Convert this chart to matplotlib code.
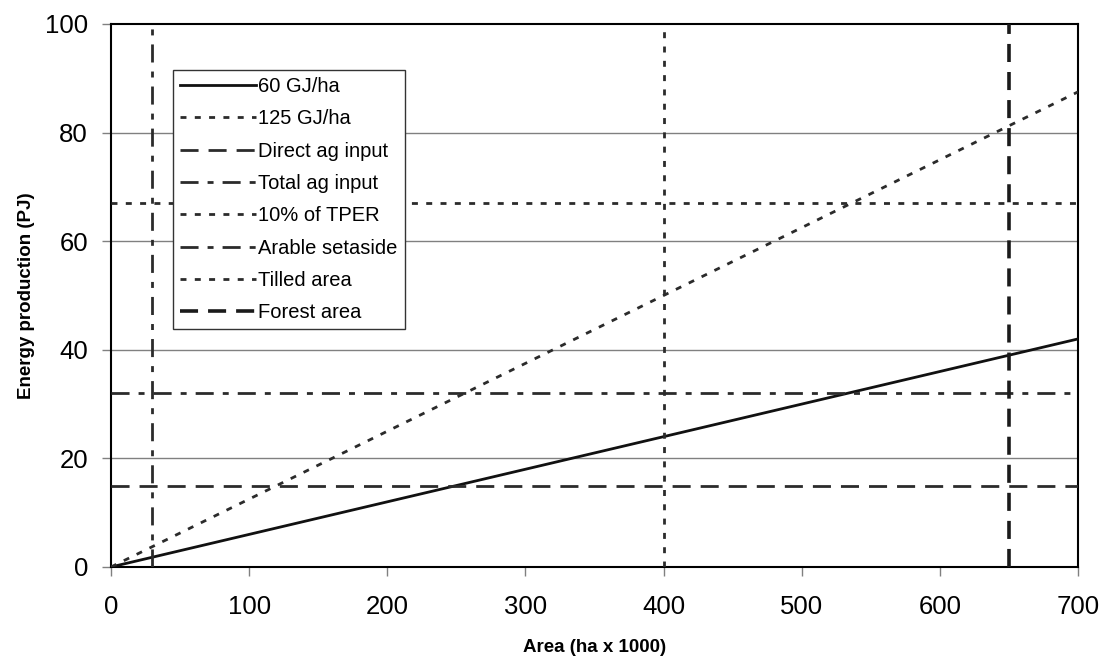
import matplotlib
matplotlib.use("Agg")
import matplotlib.pyplot as plt

plt.rcParams['font.family'] = ['Liberation Sans', 'DejaVu Sans']
plt.rcParams['lines.scale_dashes'] = False

# endpoints of the two production lines (area in ha x 1000, energy in PJ)
area_pts = [0, 700]
prod_60 = [0, 42]
prod_125 = [0, 87.5]

# horizontal reference levels (PJ)
direct_ag = 15
total_ag = 32
tper_10 = 67

# vertical reference areas (ha x 1000)
setaside = 30
tilled = 400
forest = 650

x_ticks = [0, 100, 200, 300, 400, 500, 600, 700]
y_ticks = [0, 20, 40, 60, 80, 100]

ink = '#2b2b2b'
dash_long = (0, (13, 7.2))
dash_dot = (0, (13, 6.5, 4.3, 6.5))
dotted = (0, (4.3, 6.0))
lw = 2.0

fig = plt.figure(figsize=(11.04, 6.57), dpi=100)
ax = fig.add_axes([0.1005, 0.137, 0.876, 0.8265])

# gridlines
for yv in y_ticks[1:-1]:
    ax.axhline(yv, color='#808080', lw=1.0, zorder=1)

ax.plot(area_pts, prod_60, color='#111111', lw=lw, label='60 GJ/ha', zorder=3)
ax.plot(area_pts, prod_125, color=ink, lw=lw, linestyle=dotted, label='125 GJ/ha', zorder=3)
ax.axhline(direct_ag, color=ink, lw=lw, linestyle=dash_long, label='Direct ag input', zorder=3)
ax.axhline(total_ag, color=ink, lw=lw, linestyle=dash_dot, label='Total ag input', zorder=3)
ax.axhline(tper_10, color=ink, lw=lw, linestyle=dotted, label='10% of TPER', zorder=3)
ax.axvline(setaside, color=ink, lw=lw, linestyle=dash_dot, label='Arable setaside', zorder=3)
ax.axvline(tilled, color=ink, lw=lw, linestyle=dotted, label='Tilled area', zorder=3)
ax.axvline(forest, color='#1a1a1a', lw=2.6, linestyle=dash_long, label='Forest area', zorder=3)

ax.set_xlim(0, 700)
ax.set_ylim(0, 100)
ax.set_xticks(x_ticks)
ax.set_yticks(y_ticks)
ax.tick_params(axis='both', direction='out', length=6.5, width=1.0, color='#808080',
               labelsize=18.5, pad=10)
ax.tick_params(axis='x', pad=14)

for sp in ax.spines.values():
    sp.set_linewidth(1.5)
    sp.set_color('black')

ax.set_xlabel('Area (ha x 1000)', fontsize=13.5, fontweight='bold', labelpad=14)
ax.set_ylabel('Energy production (PJ)', fontsize=13.5, fontweight='bold', labelpad=7)

leg = ax.legend(loc='upper left', bbox_to_anchor=(0.064, 0.915), borderaxespad=0,
                fontsize=14.5, handlelength=3.8, handletextpad=0.1, labelspacing=0.66,
                borderpad=0.35, fancybox=False, framealpha=1, edgecolor='#333333')
leg.get_frame().set_linewidth(1.0)

fig.savefig('out.png', dpi=100)
